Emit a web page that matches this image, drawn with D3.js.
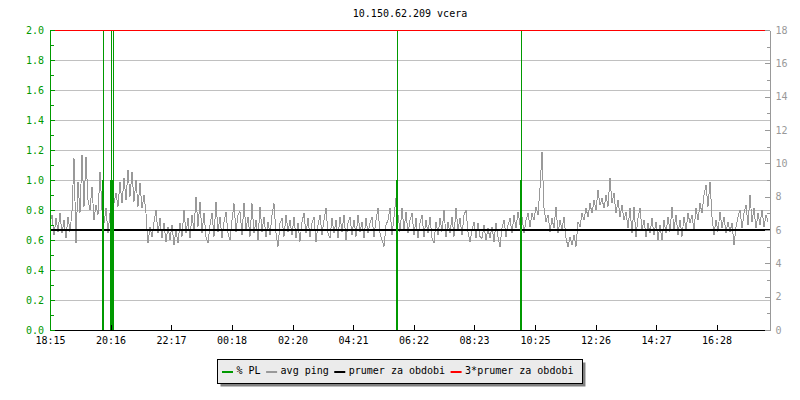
<!DOCTYPE html>
<html>
<head>
<meta charset="utf-8">
<script src="https://cdn.jsdelivr.net/npm/d3@7"></script>
<style>
  body { margin: 0; background: #fff; }
  text { font-family: "DejaVu Sans Mono", monospace; font-size: 10px; }
</style>
</head>
<body>
<script>
// chart size and plot box
const width = 800, height = 400;
const plotLeft = 50, plotRight = 770, plotTop = 30, plotBottom = 330;

const title = "10.150.62.209 vcera";

// time axis labels (start of graph is 18:15, the graph spans 24 h)
const timeTicks = ["18:15", "20:16", "22:17", "00:18", "02:20", "04:21",
                   "06:22", "08:23", "10:25", "12:26", "14:27", "16:28"];

// avg ping in ms, one sample every 4 minutes starting 18:15
const pingStepMin = 4;
const pingValues = [
  6.4, 6.9, 5.7, 6.7, 5.9, 7.0, 5.8, 6.6, 5.5, 6.8, 5.9, 7.1, 10.3, 5.2, 8.9, 7.0, 10.5, 7.4, 10.4, 7.8,
  7.2, 8.6, 6.6, 7.5, 6.9, 9.5, 7.2, 6.4, 7.3, 5.8, 7.0, 8.8, 7.6, 8.2, 7.4, 8.9, 7.6, 9.1, 7.8, 9.6,
  8.0, 9.5, 7.7, 9.0, 7.4, 8.8, 7.3, 8.1, 7.0, 5.2, 6.2, 5.6, 6.5, 7.2, 5.8, 6.7, 5.5, 6.4, 5.3, 6.2,
  5.4, 6.3, 5.1, 6.0, 5.2, 6.4, 5.6, 7.2, 5.8, 6.7, 5.5, 6.9, 6.0, 8.0, 6.2, 7.7, 5.8, 7.0, 5.6, 5.2,
  6.3, 7.0, 5.6, 7.7, 5.9, 6.8, 5.5, 6.5, 7.1, 5.8, 5.4, 6.6, 7.6, 5.9, 6.9, 7.1, 5.7, 7.6, 6.0, 6.8,
  5.6, 7.6, 5.8, 6.6, 5.4, 7.4, 5.9, 6.8, 5.6, 6.5, 5.7, 6.9, 7.6, 5.8, 5.0, 6.4, 6.7, 5.6, 6.9, 5.9,
  6.6, 5.7, 6.8, 5.5, 6.4, 5.3, 6.5, 7.0, 5.8, 6.7, 5.6, 6.4, 6.8, 5.3, 6.3, 6.9, 5.7, 6.6, 7.3, 5.8,
  5.5, 6.7, 5.8, 6.6, 5.5, 6.8, 5.9, 6.9, 5.4, 6.4, 6.8, 5.7, 6.6, 5.6, 6.9, 5.9, 6.5, 5.5, 6.7, 5.8,
  6.4, 6.8, 5.6, 6.6, 7.3, 5.8, 5.4, 5.0, 6.3, 6.6, 7.3, 5.7, 6.8, 7.9, 6.9, 5.9, 7.3, 6.0, 7.1, 5.8,
  6.6, 7.0, 5.7, 6.7, 5.5, 6.4, 6.9, 5.6, 6.6, 5.8, 6.8, 5.5, 5.2, 6.5, 5.7, 6.7, 5.9, 7.2, 5.6, 6.5,
  5.8, 6.8, 5.6, 7.3, 6.0, 6.7, 5.7, 6.9, 7.2, 5.9, 5.3, 6.0, 6.5, 5.5, 6.4, 5.6, 5.5, 6.3, 5.4, 6.1,
  5.5, 6.2, 5.3, 6.4, 5.6, 5.0, 6.1, 6.6, 5.6, 6.3, 6.7, 5.8, 6.9, 6.1, 7.1, 6.3, 6.8, 5.8, 6.6, 7.0,
  6.2, 7.0, 6.6, 7.4, 6.9, 8.5, 10.7, 7.3, 6.5, 6.9, 5.9, 6.7, 6.1, 7.4, 5.8, 6.6, 6.0, 6.8, 5.5, 5.0,
  5.6, 5.1, 5.7, 5.0, 6.5, 6.2, 7.0, 6.6, 7.3, 6.8, 7.6, 7.0, 7.8, 7.2, 8.4, 7.5, 7.9, 7.3, 8.1, 7.4,
  9.1, 7.6, 8.2, 7.0, 7.8, 6.8, 7.5, 6.6, 7.1, 6.1, 7.3, 5.8, 7.4, 5.6, 6.7, 7.3, 6.0, 6.6, 5.6, 6.4,
  5.8, 6.7, 5.7, 6.5, 5.4, 6.3, 5.4, 6.6, 5.8, 6.8, 5.9, 7.4, 6.0, 6.9, 5.7, 6.6, 5.6, 6.8, 6.0, 7.0,
  6.4, 6.9, 6.0, 7.3, 6.6, 7.6, 7.0, 8.1, 8.7, 7.4, 8.9, 6.8, 5.7, 6.6, 5.9, 7.1, 6.1, 6.8, 5.8, 6.5,
  5.9, 6.4, 5.1, 6.2, 6.8, 7.2, 6.1, 7.0, 7.5, 6.3, 8.1, 6.5, 7.3, 6.1, 7.0, 6.3, 7.2, 6.2, 6.9, 6.5
];

// mean ping for the period (ms); red line is 3x that
const meanPing = 6.0;

// packet loss (%) : short bars and single samples that go off the top
const plBarStart = ["19:58", "20:15", "05:46", "09:54"];
const plBarEnd   = ["20:03", "20:21", "05:50", "09:57"];
const plBarValue = [1.0, 1.0, 1.0, 1.0];
const plSpikeTime  = ["20:00", "20:16", "20:20", "05:48", "09:56"];
const plSpikeValue = [100, 100, 100, 100, 100];

const legendItems = [
  { label: "% PL", color: "#009900" },
  { label: "avg ping", color: "#999999" },
  { label: "prumer za obdobi", color: "#000000" },
  { label: "3*prumer za obdobi", color: "#ff0000" }
];

// "HH:MM" -> Date, times before 18:15 belong to the next day
const toDate = s => {
  const [h, m] = s.split(":").map(Number);
  const d = new Date(2024, 0, 1, h, m);
  if (h * 60 + m < 18 * 60 + 15) d.setDate(2);
  return d;
};
const start = toDate("18:15");
const end = d3.timeHour.offset(start, 24);

const svg = d3.select("body")
    .append("svg")
    .attr("width", width)
    .attr("height", height);

const x = d3.scaleTime().domain([start, end]).range([plotLeft, plotRight]);
const yPL = d3.scaleLinear().domain([0, 2]).range([plotBottom, plotTop]);
const yPing = d3.scaleLinear().domain([0, 18]).range([plotBottom, plotTop]);

svg.append("defs").append("clipPath").attr("id", "plot")
  .append("rect").attr("x", plotLeft).attr("y", plotTop)
  .attr("width", plotRight - plotLeft).attr("height", plotBottom - plotTop);

// title
svg.append("text")
    .attr("x", (plotLeft + plotRight) / 2)
    .attr("y", 17)
    .attr("text-anchor", "middle")
    .attr("fill", "#000")
    .text(title);

// grid
const gridVals = d3.range(1, 10).map(i => i * 0.2);
svg.append("g").selectAll("line")
    .data(gridVals)
    .enter()
    .append("line")
    .attr("x1", plotLeft).attr("x2", plotRight)
    .attr("y1", d => Math.round(yPL(d)) + 0.5)
    .attr("y2", d => Math.round(yPL(d)) + 0.5)
    .attr("stroke", "#c0c0c0")
    .attr("shape-rendering", "crispEdges");

const plot = svg.append("g").attr("clip-path", "url(#plot)");

// avg ping
const pingData = pingValues.map((v, i) => ({ t: d3.timeMinute.offset(start, i * pingStepMin), v }));
plot.append("path")
    .datum(pingData)
    .attr("fill", "none")
    .attr("stroke", "#999999")
    .attr("stroke-width", 1)
    .attr("shape-rendering", "crispEdges")
    .attr("d", d3.line().x(d => x(d.t)).y(d => yPing(d.v)));

// mean line
plot.append("line")
    .attr("x1", plotLeft).attr("x2", plotRight)
    .attr("y1", yPing(meanPing)).attr("y2", yPing(meanPing))
    .attr("stroke", "#000")
    .attr("stroke-width", 2)
    .attr("shape-rendering", "crispEdges");

// packet loss
plot.append("g").selectAll("rect")
    .data(plBarStart.map((s, i) => ({ s: toDate(s), e: toDate(plBarEnd[i]), v: plBarValue[i] })))
    .enter()
    .append("rect")
    .attr("x", d => x(d.s))
    .attr("width", d => Math.max(2, x(d.e) - x(d.s)))
    .attr("y", d => yPL(d.v))
    .attr("height", d => plotBottom - yPL(d.v))
    .attr("fill", "#009900")
    .attr("shape-rendering", "crispEdges");

plot.append("g").selectAll("rect")
    .data(plSpikeTime.map((s, i) => ({ t: toDate(s), v: plSpikeValue[i] })))
    .enter()
    .append("rect")
    .attr("x", d => Math.round(x(d.t)))
    .attr("width", 1)
    .attr("y", d => Math.max(yPL(d.v), plotTop))
    .attr("height", d => plotBottom - Math.max(yPL(d.v), plotTop))
    .attr("fill", "#009900")
    .attr("shape-rendering", "crispEdges");

// 3 * mean
plot.append("line")
    .attr("x1", plotLeft).attr("x2", plotRight)
    .attr("y1", Math.round(yPing(3 * meanPing)) + 0.5)
    .attr("y2", Math.round(yPing(3 * meanPing)) + 0.5)
    .attr("stroke", "#ff0000")
    .attr("shape-rendering", "crispEdges");

// axes
function styleAxis(g, color) {
  g.selectAll("path, line").attr("stroke", color).attr("shape-rendering", "crispEdges");
  g.selectAll("text").attr("fill", color).style("font-family", "DejaVu Sans Mono").style("font-size", "10px");
}

const xAxis = svg.append("g")
    .attr("transform", `translate(0,${plotBottom})`)
    .call(d3.axisBottom(x)
        .tickValues(timeTicks.map(toDate))
        .tickFormat((d, i) => timeTicks[i])
        .tickSizeInner(-5).tickSizeOuter(0).tickPadding(7));
styleAxis(xAxis, "#000");

const leftMinor = svg.append("g")
    .attr("transform", `translate(${plotLeft},0)`)
    .call(d3.axisLeft(yPL).tickValues(d3.range(0, 10).map(i => i * 0.2 + 0.1))
        .tickFormat("").tickSizeInner(-4).tickSizeOuter(0));
styleAxis(leftMinor, "#009900");

const leftAxis = svg.append("g")
    .attr("transform", `translate(${plotLeft},0)`)
    .call(d3.axisLeft(yPL).tickValues(d3.range(0, 11).map(i => i * 0.2))
        .tickFormat(d3.format(".1f")).tickSizeInner(-5).tickSizeOuter(0).tickPadding(6));
styleAxis(leftAxis, "#009900");

const rightMinor = svg.append("g")
    .attr("transform", `translate(${plotRight},0)`)
    .call(d3.axisRight(yPing).tickValues(d3.range(1, 18, 2))
        .tickFormat("").tickSizeInner(-3).tickSizeOuter(0));
styleAxis(rightMinor, "#999999");

const rightAxis = svg.append("g")
    .attr("transform", `translate(${plotRight},0)`)
    .call(d3.axisRight(yPing).tickValues(d3.range(0, 19, 2))
        .tickSizeInner(-5).tickSizeOuter(0).tickPadding(5.5));
styleAxis(rightAxis, "#999999");

// legend
const legend = svg.append("g");
const shadow = legend.append("rect").attr("fill", "#808080");
const box = legend.append("rect").attr("fill", "#ebebeb").attr("stroke", "#000")
    .attr("shape-rendering", "crispEdges");
let lx = 222;
const ly = 374;
legendItems.forEach(item => {
  legend.append("rect")
      .attr("x", lx).attr("y", ly - 3)
      .attr("width", 11).attr("height", 2)
      .attr("fill", item.color);
  const t = legend.append("text")
      .attr("x", lx + 14.5).attr("y", ly)
      .attr("fill", "#000")
      .text(item.label);
  lx = lx + 14.5 + t.node().getComputedTextLength() + 5.5;
});
const bx0 = 217.5, bx1 = lx + 3.5;
box.attr("x", bx0).attr("y", 359.5).attr("width", bx1 - bx0).attr("height", 24);
shadow.attr("x", bx0 + 3).attr("y", 362.5).attr("width", bx1 - bx0).attr("height", 24);
</script>
</body>
</html>
